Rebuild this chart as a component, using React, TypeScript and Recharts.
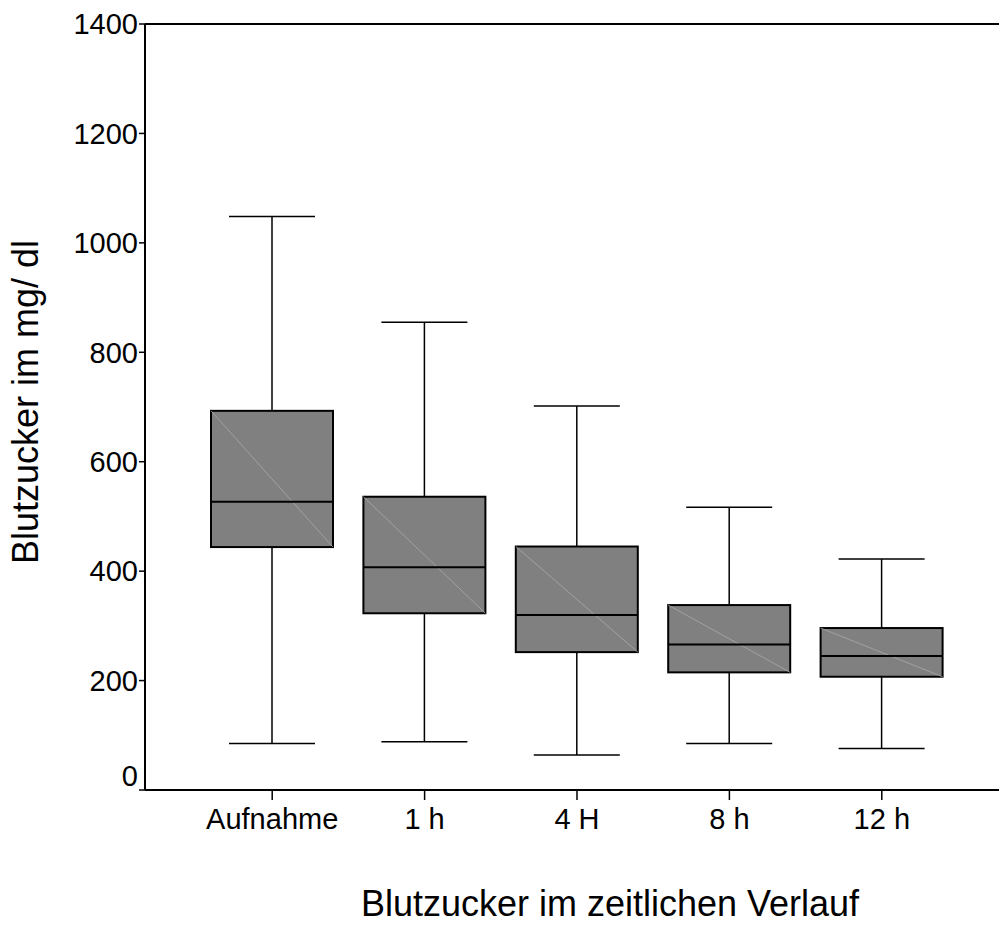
import { ComposedChart, Bar, XAxis, YAxis, ReferenceLine, Label } from 'recharts'

const categories = ['Aufnahme', '1 h', '4 H', '8 h', '12 h']
const mins = [85, 88, 64, 85, 76]
const q1s = [444, 323, 252, 215, 207]
const medians = [527, 407, 320, 266, 245]
const q3s = [693, 536, 445, 338, 296]
const maxs = [1048, 855, 702, 517, 422]
const yTicks = [0, 200, 400, 600, 800, 1000, 1200, 1400]

const FONT = '"Liberation Sans", Arial, sans-serif'

const data = categories.map((name, i) => ({
  name,
  box: [q1s[i], q3s[i]],
  min: mins[i],
  median: medians[i],
  q1: q1s[i],
  q3: q3s[i],
  max: maxs[i],
}))

function BoxShape(props: any) {
  const { x, y, width, height, payload } = props
  if (height == null || !payload) return null
  const k = height / (payload.q3 - payload.q1)
  const cx = x + width / 2
  const yMax = y - (payload.max - payload.q3) * k
  const yMin = y + height + (payload.q1 - payload.min) * k
  const yMed = y + (payload.q3 - payload.median) * k
  const cap = 43
  return (
    <g>
      {/* whiskers */}
      <line x1={cx} x2={cx} y1={yMax} y2={y} stroke="#000" strokeWidth={1.5} />
      <line x1={cx} x2={cx} y1={y + height} y2={yMin} stroke="#000" strokeWidth={1.5} />
      <line x1={cx - cap} x2={cx + cap} y1={yMax} y2={yMax} stroke="#000" strokeWidth={1.5} />
      <line x1={cx - cap} x2={cx + cap} y1={yMin} y2={yMin} stroke="#000" strokeWidth={1.5} />
      {/* box */}
      <rect x={x} y={y} width={width} height={height} fill="#808080" stroke="#000" strokeWidth={2} />
      <line x1={x} y1={y} x2={x + width} y2={y + height} stroke="#a9a9a9" strokeWidth={0.8} />
      <line x1={x} x2={x + width} y1={yMed} y2={yMed} stroke="#000" strokeWidth={2} />
    </g>
  )
}

function YTick(props: any) {
  const { x, y, payload } = props
  // the "0" label sits a bit above its tick in the original
  const shift = payload.value === 0 ? -14 : 0
  return (
    <text x={x} y={y + shift} dy="0.355em" textAnchor="end" fill="#000" fontSize={29} fontFamily={FONT}>
      {payload.value}
    </text>
  )
}

export default function App() {
  return (
    <div style={{ position: 'absolute', left: 0, top: 0, background: '#fff' }}>
      <ComposedChart
        width={999}
        height={925}
        data={data}
        margin={{ top: 24, right: 0, bottom: 0, left: 0 }}
      >
        <XAxis
          dataKey="name"
          height={135}
          padding={{ left: 51, right: 41 }}
          tickSize={10}
          tickMargin={8}
          tick={{ fill: '#000', fontSize: 29, fontFamily: FONT }}
          axisLine={{ stroke: '#000', strokeWidth: 2 }}
          tickLine={{ stroke: '#000', strokeWidth: 1.5 }}
        >
          <Label
            value="Blutzucker im zeitlichen Verlauf"
            position="insideBottom"
            offset={9}
            dx={38}
            style={{ fill: '#000', fontSize: 36, fontFamily: FONT }}
          />
        </XAxis>
        <YAxis
          width={145}
          type="number"
          domain={[0, 1400]}
          ticks={yTicks}
          interval={0}
          tickSize={6}
          tickMargin={1}
          tick={<YTick />}
          axisLine={{ stroke: '#000', strokeWidth: 2 }}
          tickLine={{ stroke: '#000', strokeWidth: 1.5 }}
        >
          <Label
            value="Blutzucker im mg/ dl"
            angle={-90}
            position="insideLeft"
            offset={25}
            dy={-5}
            style={{ fill: '#000', fontSize: 36, fontFamily: FONT, textAnchor: 'middle' }}
          />
        </YAxis>
        <ReferenceLine y={1400} stroke="#000" strokeWidth={2} />
        <Bar dataKey="box" barSize={122} shape={(p: any) => <BoxShape {...p} />} isAnimationActive={false} />
      </ComposedChart>
    </div>
  )
}
